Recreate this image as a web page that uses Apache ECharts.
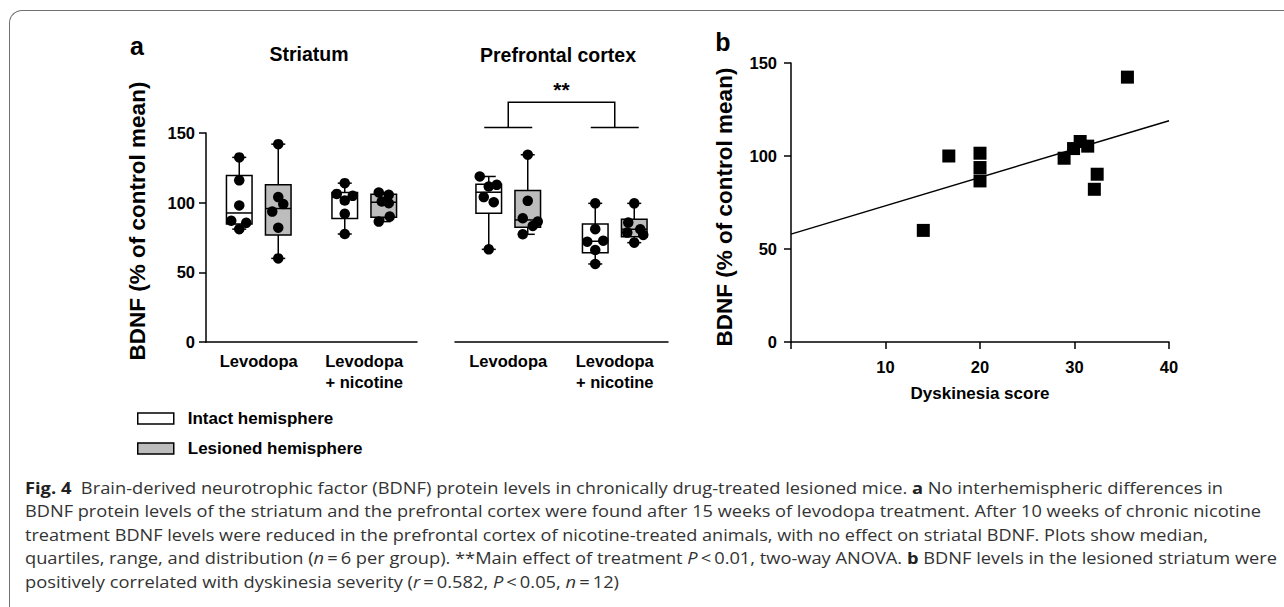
<!DOCTYPE html>
<html>
<head>
<meta charset="utf-8">
<script src="https://cdn.jsdelivr.net/npm/echarts@6/dist/echarts.min.js"></script>
<style>
html,body{margin:0;padding:0;background:#fff;width:1284px;height:607px;overflow:hidden;}
#chart{position:absolute;left:0;top:0;width:1284px;height:607px;}
#frame{position:absolute;left:9px;top:10px;width:1400px;height:700px;border-top:1.5px solid #707070;border-left:1.5px solid #707070;border-top-left-radius:13px;box-sizing:border-box;}
.cap{position:absolute;left:25px;height:20px;line-height:20px;font-family:'Open Sans',sans-serif;font-size:15.5px;color:#333;white-space:nowrap;transform-origin:0 50%;}
.cap b{color:#222;}
</style>
</head>
<body>
<div id="frame"></div>
<div id="chart"></div>
<div class="cap" id="l1" style="top:478px"><b>Fig. 4</b>&nbsp; Brain-derived neurotrophic factor (BDNF) protein levels in chronically drug-treated lesioned mice. <b>a</b> No interhemispheric differences in</div>
<div class="cap" id="l2" style="top:501px">BDNF protein levels of the striatum and the prefrontal cortex were found after 15 weeks of levodopa treatment. After 10 weeks of chronic nicotine</div>
<div class="cap" id="l3" style="top:525px">treatment BDNF levels were reduced in the prefrontal cortex of nicotine-treated animals, with no effect on striatal BDNF. Plots show median,</div>
<div class="cap" id="l4" style="top:548px">quartiles, range, and distribution (<i>n</i>&thinsp;=&thinsp;6 per group). **Main effect of treatment <i>P</i>&thinsp;&lt;&thinsp;0.01, two-way ANOVA. <b>b</b> BDNF levels in the lesioned striatum were</div>
<div class="cap" id="l5" style="top:572px">positively correlated with dyskinesia severity (<i>r</i>&thinsp;=&thinsp;0.582, <i>P</i>&thinsp;&lt;&thinsp;0.05, <i>n</i>&thinsp;=&thinsp;12)</div>
<script>
// ---------------- data ----------------
const groups = ['Levodopa', 'Levodopa\n+ nicotine'];
const yTicks = [0, 50, 100, 150];
// box statistics per group: [min, Q1, median, Q3, max]
const striatumIntactBox   = [[81, 84.7, 92.6, 119.5, 132.5], [77.5, 88.6, 103.8, 107.3, 114]];
const striatumLesionedBox = [[60, 76.8, 95.8, 112.8, 142], [86.4, 89.5, 100.3, 106.1, 107.3]];
const pfcIntactBox        = [[66.5, 92.4, 107.5, 113.3, 118.8], [56, 64, 72.3, 84.6, 99.5]];
const pfcLesionedBox      = [[77.3, 82.3, 87.6, 108.7, 134.4], [71.3, 75.6, 80.9, 88.1, 99.5]];
// individual animals (% of control mean)
const striatumIntactPts   = [[132.5, 116, 98, 87, 85.5, 81], [114, 106.3, 104.9, 101.5, 92, 77.5]];
const striatumLesionedPts = [[142, 104, 99, 93.6, 82, 60], [107.3, 105.6, 100.8, 99.6, 90, 86.4]];
const pfcIntactPts        = [[118.8, 112.8, 111.6, 104, 100.3, 66.5], [99.5, 81, 72.7, 72, 66, 56]];
const pfcLesionedPts      = [[134.4, 101.3, 88.8, 86.4, 83.3, 77.3], [99.5, 85.7, 80.9, 78.5, 76.8, 71.3]];
// significance bracket levels (% of control mean)
const bracketLow = 154, bracketHigh = 172, starsLevel = 181;
const starsText = '**';
// panel b
const dyskScore = [14, 16.7, 20, 20, 20, 28.9, 29.9, 30.6, 31.4, 32.4, 32.1, 35.6];
const dyskBDNF  = [60, 100, 101.5, 93.8, 86.6, 98.8, 104, 107.8, 105.3, 90.2, 82.1, 142.4];
const fitLine   = [[0, 58], [40, 119]];
const xTicksB   = [10, 20, 30, 40];

// ---------------- styles (pixel jitter of dots, not data) ----------------
const striatumIntactJit   = [[0, 0, 0, -8, 7, 0], [0, -8, 8, 0, 0, 0]];
const striatumLesionedJit = [[0, 0, 5, -6, 0, 0], [-5, 5, -2, 5, 6, -5]];
const pfcIntactJit        = [[-9, 8, 0, -5, 5, 0], [0, 0, 8, -8, 0, 0]];
const pfcLesionedJit      = [[0, 0, -5, 10, 5, -5], [0, -6, 6, -7, 9, 0]];

const FONT = "'Liberation Sans', Arial, sans-serif";
const BOX_OFF = 19.5, BOX_HW = 12.8, CAP_HW = 7, LW = 1.5;
const GREY = '#bdbdbd';

function boxRender(off, fill) {
  return function (params, api) {
    const c = api.value(0);
    const pMin = api.coord([c, api.value(1)]);
    const pQ1 = api.coord([c, api.value(2)]);
    const pMed = api.coord([c, api.value(3)]);
    const pQ3 = api.coord([c, api.value(4)]);
    const pMax = api.coord([c, api.value(5)]);
    const x = pMin[0] + off;
    const ls = { stroke: '#000', lineWidth: LW };
    return {
      type: 'group',
      children: [
        { type: 'line', shape: { x1: x, y1: pMin[1], x2: x, y2: pQ1[1] }, style: ls },
        { type: 'line', shape: { x1: x, y1: pQ3[1], x2: x, y2: pMax[1] }, style: ls },
        { type: 'line', shape: { x1: x - CAP_HW, y1: pMin[1], x2: x + CAP_HW, y2: pMin[1] }, style: ls },
        { type: 'line', shape: { x1: x - CAP_HW, y1: pMax[1], x2: x + CAP_HW, y2: pMax[1] }, style: ls },
        { type: 'rect', shape: { x: x - BOX_HW, y: pQ3[1], width: 2 * BOX_HW, height: pQ1[1] - pQ3[1] }, style: { fill: fill, stroke: '#000', lineWidth: LW } },
        { type: 'line', shape: { x1: x - BOX_HW, y1: pMed[1], x2: x + BOX_HW, y2: pMed[1] }, style: ls }
      ]
    };
  };
}

function boxSeries(name, gridIdx, boxes, off, fill) {
  return {
    type: 'custom', name: name, xAxisIndex: gridIdx, yAxisIndex: gridIdx,
    renderItem: boxRender(off, fill),
    encode: { x: 0, y: [1, 2, 3, 4, 5] },
    data: boxes.map((b, i) => [i].concat(b)),
    itemStyle: { color: fill, borderColor: '#000', borderWidth: LW },
    z: 2, silent: true
  };
}

function dotSeries(name, gridIdx, pts, jit, off) {
  const data = [];
  pts.forEach((arr, i) => arr.forEach((v, k) => {
    data.push({ value: [i, v], symbolOffset: [off + jit[i][k], 0] });
  }));
  return {
    type: 'scatter', name: name, xAxisIndex: gridIdx, yAxisIndex: gridIdx,
    symbol: 'circle', symbolSize: 10.5, itemStyle: { color: '#000', opacity: 1 },
    data: data, z: 5, silent: true
  };
}

const bracketSeries = {
  type: 'custom', name: 'bracket', xAxisIndex: 1, yAxisIndex: 1, silent: true,
  encode: { x: 0, y: 1 },
  data: [[0, bracketHigh]],
  renderItem: function (params, api) {
    const a = api.coord([0, bracketLow]);
    const b = api.coord([1, bracketLow]);
    const ah = api.coord([0, bracketHigh]);
    const st = api.coord([0.5, starsLevel]);
    const hw = 24;
    const ls = { stroke: '#000', lineWidth: LW };
    return {
      type: 'group',
      children: [
        { type: 'line', shape: { x1: a[0] - hw, y1: a[1], x2: a[0] + hw, y2: a[1] }, style: ls },
        { type: 'line', shape: { x1: b[0] - hw, y1: b[1], x2: b[0] + hw, y2: b[1] }, style: ls },
        { type: 'polyline', shape: { points: [[a[0], a[1]], [a[0], ah[1]], [b[0], ah[1]], [b[0], b[1]]] }, style: { stroke: '#000', lineWidth: LW, fill: null } },
        { type: 'text', x: (a[0] + b[0]) / 2, y: st[1], style: { text: starsText, font: 'bold 21px ' + FONT, fill: '#000', align: 'center', verticalAlign: 'middle' } }
      ]
    };
  }
};

const axisLineStyle = { show: true, lineStyle: { color: '#000', width: LW } };
const labelStyle = { color: '#000', fontFamily: FONT, fontWeight: 'bold', fontSize: 16.5 };

function catAxis(gridIdx) {
  return {
    type: 'category', gridIndex: gridIdx, data: groups, boundaryGap: true,
    axisLine: axisLineStyle, axisTick: { show: false }, splitLine: { show: false },
    axisLabel: Object.assign({ margin: 8, lineHeight: 21, interval: 0 }, labelStyle)
  };
}

const yName = 'BDNF (% of control mean)';
const yTitleFont = 'bold 22.5px ' + FONT;

const option = {
  animation: false,
  backgroundColor: 'transparent',
  grid: [
    { left: 206, top: 133, width: 211, height: 209 },
    { left: 455, top: 133, width: 213, height: 209 },
    { left: 791, top: 63, width: 378, height: 279 }
  ],
  xAxis: [
    catAxis(0),
    catAxis(1),
    {
      type: 'value', gridIndex: 2, min: 0, max: 40, interval: 10,
      axisLine: axisLineStyle,
      axisTick: { show: true, inside: false, length: 7, lineStyle: { color: '#000', width: LW } },
      splitLine: { show: false },
      axisLabel: Object.assign({ margin: 16, formatter: v => (xTicksB.indexOf(v) >= 0 ? String(v) : '') }, labelStyle),
      name: 'Dyskinesia score', nameLocation: 'middle', nameGap: 51,
      nameTextStyle: { color: '#000', fontFamily: FONT, fontWeight: 'bold', fontSize: 17, align: 'center', verticalAlign: 'middle' }
    }
  ],
  yAxis: [
    {
      type: 'value', gridIndex: 0, min: 0, max: 150, interval: 50,
      axisLine: axisLineStyle,
      axisTick: { show: true, inside: false, length: 7, lineStyle: { color: '#000', width: LW } },
      splitLine: { show: false },
      axisLabel: Object.assign({ margin: 11, formatter: v => (yTicks.indexOf(v) >= 0 ? String(v) : '') }, labelStyle)
    },
    { type: 'value', gridIndex: 1, min: 0, max: 150, interval: 50, show: false, splitLine: { show: false } },
    {
      type: 'value', gridIndex: 2, min: 0, max: 150, interval: 50,
      axisLine: axisLineStyle,
      axisTick: { show: true, inside: false, length: 7, lineStyle: { color: '#000', width: LW } },
      splitLine: { show: false },
      axisLabel: Object.assign({ margin: 14, formatter: v => (yTicks.indexOf(v) >= 0 ? String(v) : '') }, labelStyle)
    }
  ],
  legend: {
    orient: 'vertical', left: 132, top: 405, itemWidth: 36, itemHeight: 11, itemGap: 13,
    icon: 'rect', selectedMode: false,
    textStyle: { color: '#000', fontFamily: FONT, fontWeight: 'bold', fontSize: 17, padding: [0, 0, 0, 9] },
    data: [
      { name: 'Intact hemisphere', itemStyle: { color: '#fff', borderColor: '#000', borderWidth: LW } },
      { name: 'Lesioned hemisphere', itemStyle: { color: GREY, borderColor: '#000', borderWidth: LW } }
    ]
  },
  graphic: [
    { type: 'text', x: 137, y: 46, style: { text: 'a', font: 'bold 25px ' + FONT, fill: '#000', align: 'center', verticalAlign: 'middle' } },
    { type: 'text', x: 723, y: 42, style: { text: 'b', font: 'bold 25px ' + FONT, fill: '#000', align: 'center', verticalAlign: 'middle' } },
    { type: 'text', x: 309, y: 54, style: { text: 'Striatum', font: 'bold 19.5px ' + FONT, fill: '#000', align: 'center', verticalAlign: 'middle' } },
    { type: 'text', x: 558, y: 55, style: { text: 'Prefrontal cortex', font: 'bold 19.5px ' + FONT, fill: '#000', align: 'center', verticalAlign: 'middle' } },
    { type: 'text', x: 137, y: 221, rotation: Math.PI / 2, style: { text: yName, font: yTitleFont, fill: '#000', align: 'center', verticalAlign: 'middle' } },
    { type: 'text', x: 724, y: 207, rotation: Math.PI / 2, style: { text: yName, font: yTitleFont, fill: '#000', align: 'center', verticalAlign: 'middle' } }
  ],
  series: [
    boxSeries('Intact hemisphere', 0, striatumIntactBox, -BOX_OFF, '#fff'),
    boxSeries('Lesioned hemisphere', 0, striatumLesionedBox, BOX_OFF, GREY),
    boxSeries('Intact hemisphere', 1, pfcIntactBox, -BOX_OFF, '#fff'),
    boxSeries('Lesioned hemisphere', 1, pfcLesionedBox, BOX_OFF, GREY),
    dotSeries('Striatum intact animals', 0, striatumIntactPts, striatumIntactJit, -BOX_OFF),
    dotSeries('Striatum lesioned animals', 0, striatumLesionedPts, striatumLesionedJit, BOX_OFF),
    dotSeries('PFC intact animals', 1, pfcIntactPts, pfcIntactJit, -BOX_OFF),
    dotSeries('PFC lesioned animals', 1, pfcLesionedPts, pfcLesionedJit, BOX_OFF),
    bracketSeries,
    {
      type: 'scatter', name: 'Lesioned striatum', xAxisIndex: 2, yAxisIndex: 2,
      symbol: 'rect', symbolSize: 13, itemStyle: { color: '#000', opacity: 1 },
      data: dyskScore.map((s, i) => [s, dyskBDNF[i]]), z: 5, silent: true
    },
    {
      type: 'line', name: 'Linear fit', xAxisIndex: 2, yAxisIndex: 2,
      data: fitLine, symbol: 'none', lineStyle: { color: '#000', width: LW }, silent: true, z: 3
    }
  ]
};

const chart = echarts.init(document.getElementById('chart'), null, { renderer: 'svg' });
chart.setOption(option);

// fit each caption line horizontally to the reference text block (right edges)
function fitCaption() {
  const ends = { l1: 1223, l2: 1261, l3: 1208, l4: 1277, l5: 619 };
  Object.keys(ends).forEach(id => {
    const el = document.getElementById(id);
    el.style.transform = 'none';
    const w = el.getBoundingClientRect().width;
    el.style.transform = 'scaleX(' + ((ends[id] - 25) / w) + ')';
  });
}
if (document.fonts && document.fonts.ready) { document.fonts.ready.then(fitCaption); } else { fitCaption(); }
</script>
</body>
</html>
